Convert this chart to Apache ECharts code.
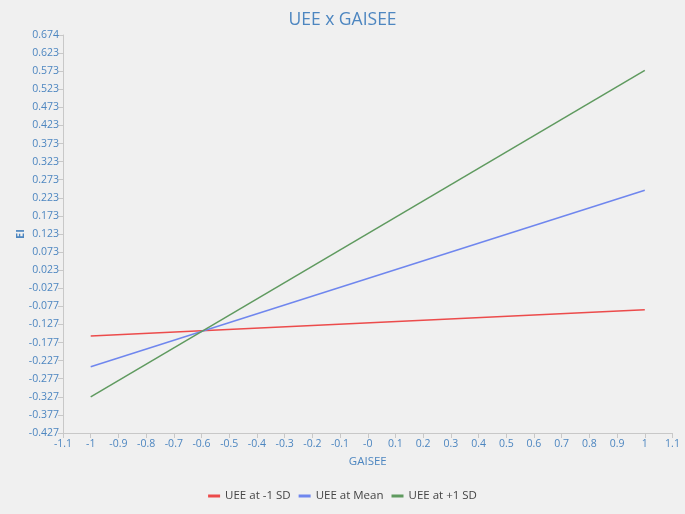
<!DOCTYPE html>
<html><head><meta charset="utf-8">
<script src="https://cdn.jsdelivr.net/npm/echarts@6/dist/echarts.min.js"></script>
<style>html,body{margin:0;padding:0;background:#f0f0f0;}#c{width:685px;height:514px;}</style>
</head><body><div id="c"></div>
<script>
const xPoints = [-1, 1];
const seriesNames = ['UEE at -1 SD', 'UEE at Mean', 'UEE at +1 SD'];
const lowSD = [-0.159, -0.0865];
const meanV = [-0.244, 0.244];
const highSD = [-0.327, 0.575];
const yTickLabels = ['-0.427','-0.377','-0.327','-0.277','-0.227','-0.177','-0.127','-0.077','-0.027','0.023','0.073','0.123','0.173','0.223','0.273','0.323','0.373','0.423','0.473','0.523','0.573','0.623','0.674'];
const xTickLabels = ['-1.1','-1','-0.9','-0.8','-0.7','-0.6','-0.5','-0.4','-0.3','-0.2','-0.1','-0','0.1','0.2','0.3','0.4','0.5','0.6','0.7','0.8','0.9','1','1.1'];

const FONT = '"Open Sans", "Noto Sans", sans-serif';
const BLUE = '#4d86c0';
const colors = ['#ec4b4b', '#6f86ee', '#5f9a5f'];
const vals = [lowSD, meanV, highSD];

const chart = echarts.init(document.getElementById('c'));
chart.setOption({
  backgroundColor: '#f0f0f0',
  animation: false,
  title: { text: 'UEE x GAISEE', left: 'center', top: 6,
    textStyle: { color: BLUE, fontSize: 17.5, fontWeight: 'normal', fontFamily: FONT } },
  grid: { left: 63, right: 12.5, top: 35, bottom: 81, containLabel: false },
  legend: { bottom: 7, left: 'center', itemWidth: 12, itemHeight: 3, itemGap: 8, icon: 'rect',
    textStyle: { color: '#444', fontSize: 11.5, fontFamily: FONT },
    data: seriesNames },
  xAxis: { type: 'value', min: -1.1, max: 1.1, interval: 0.1,
    name: 'GAISEE', nameLocation: 'middle', nameGap: 23,
    nameTextStyle: { color: BLUE, fontSize: 11.5, fontFamily: FONT },
    axisLine: { onZero: false, lineStyle: { color: '#c8c8c8' } },
    axisTick: { show: true, length: 5, lineStyle: { color: '#c8c8c8' } },
    splitLine: { show: false },
    axisLabel: { color: BLUE, fontSize: 10.5, fontFamily: FONT, margin: 6,
      formatter: v => xTickLabels[Math.round((v + 1.1) / 0.1)] } },
  yAxis: { type: 'value', min: -0.427, max: 0.673, interval: 0.05,
    name: 'EI', nameLocation: 'middle', nameGap: 37, nameRotate: 90, nameMoveOverlap: false,
    nameTextStyle: { color: BLUE, fontSize: 11, fontWeight: 'bold', fontFamily: FONT },
    axisLine: { show: true, onZero: false, lineStyle: { color: '#c8c8c8' } },
    axisTick: { show: true, length: 5, lineStyle: { color: '#c8c8c8' } },
    splitLine: { show: false },
    axisLabel: { color: BLUE, fontSize: 10.5, fontFamily: FONT, margin: 4,
      formatter: v => yTickLabels[Math.round((v + 0.427) / 0.05)] } },
  series: seriesNames.map((n, i) => ({
    name: n, type: 'line', symbol: 'none', color: colors[i],
    lineStyle: { width: 1.5, color: colors[i] },
    data: xPoints.map((x, j) => [x, vals[i][j]])
  }))
});
</script></body></html>
